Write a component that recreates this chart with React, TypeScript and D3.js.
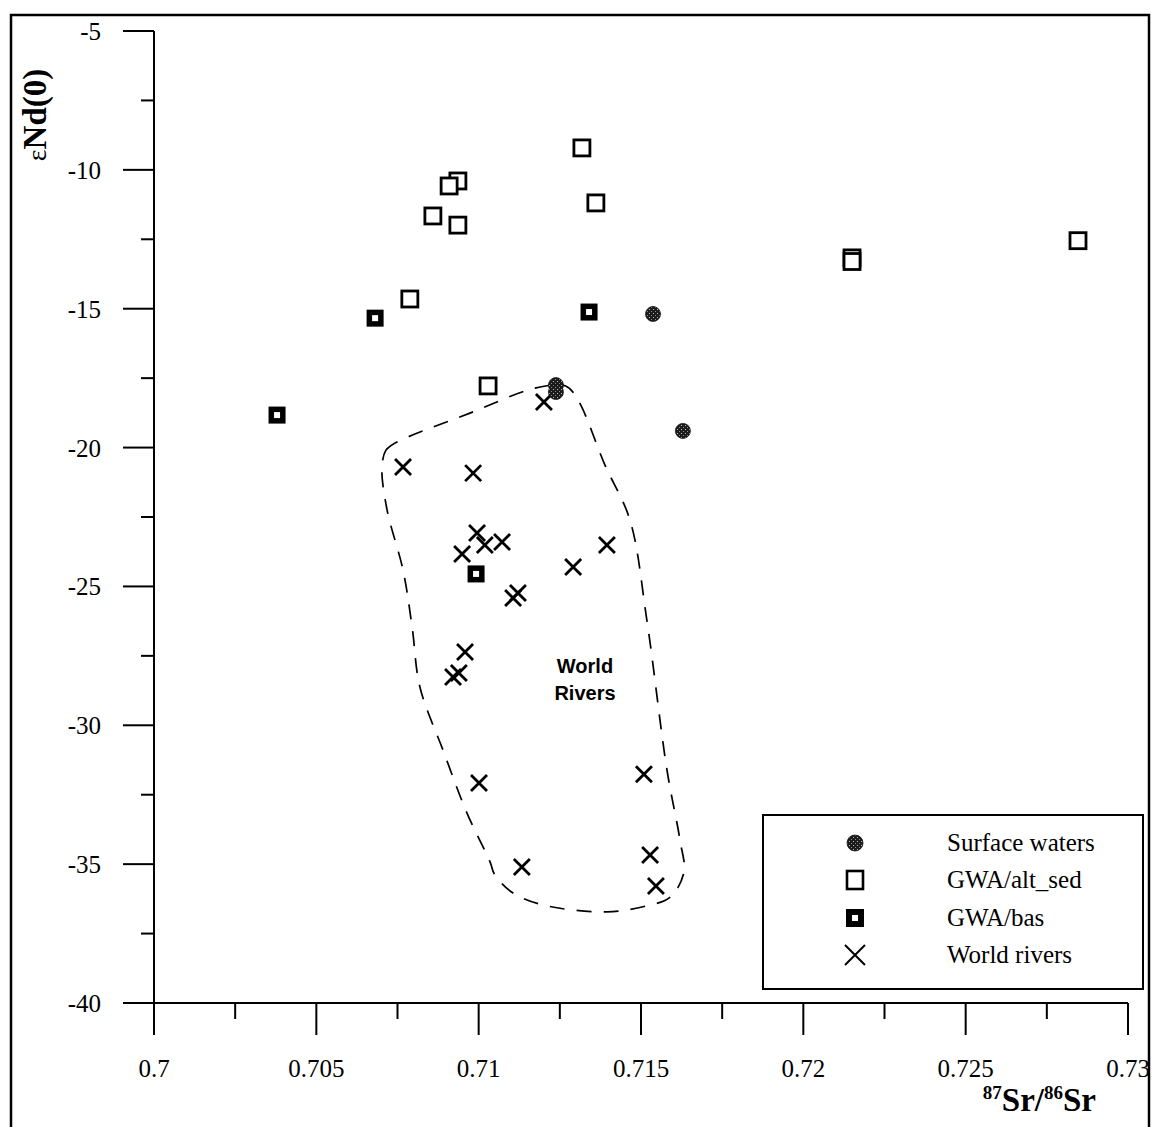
import React from 'react';
import * as d3 from 'd3';

// 87Sr/86Sr vs eps Nd(0)
const surfaceWaters: [number, number][] = [
  [0.71238, -17.75],
  [0.71238, -18.0],
  [0.71537, -15.19],
  [0.71629, -19.4],
];

const gwaAltSed: [number, number][] = [
  [0.71318, -9.21],
  [0.70936, -10.4],
  [0.70909, -10.58],
  [0.70859, -11.66],
  [0.70936, -11.99],
  [0.71361, -11.19],
  [0.70788, -14.65],
  [0.71029, -17.78],
  [0.72846, -12.55],
  [0.7215, -13.17],
  [0.7215, -13.3],
];

const gwaBas: [number, number][] = [
  [0.70681, -15.34],
  [0.70379, -18.83],
  [0.7134, -15.12],
  [0.70992, -24.55],
];

const worldRivers: [number, number][] = [
  [0.71201, -18.36],
  [0.70767, -20.7],
  [0.70983, -20.92],
  [0.70995, -23.08],
  [0.70949, -23.83],
  [0.71019, -23.51],
  [0.71072, -23.4],
  [0.71291, -24.3],
  [0.71395, -23.51],
  [0.71106, -25.42],
  [0.71121, -25.24],
  [0.70958, -27.36],
  [0.70939, -28.12],
  [0.70921, -28.26],
  [0.71001, -32.08],
  [0.71509, -31.76],
  [0.71133, -35.1],
  [0.71528, -34.67],
  [0.71546, -35.79],
];

// dashed envelope around the world rivers field
const riverEnvelope: [number, number][] = [
  [0.70702, -20.74],
  [0.70714, -20.1],
  [0.70742, -19.84],
  [0.70973, -18.76],
  [0.71174, -17.86],
  [0.71268, -17.78],
  [0.71306, -18.29],
  [0.71389, -20.63],
  [0.71466, -22.61],
  [0.71518, -26.21],
  [0.7158, -31.61],
  [0.7162, -34.13],
  [0.71632, -35.3],
  [0.71589, -36.2],
  [0.71518, -36.5],
  [0.71395, -36.72],
  [0.71198, -36.47],
  [0.71106, -36.04],
  [0.7105, -35.39],
  [0.71035, -34.92],
  [0.70964, -33.16],
  [0.7089, -30.89],
  [0.70819, -28.62],
  [0.70795, -26.46],
  [0.70767, -24.41],
  [0.70718, -22.25],
];

const xTicks = [0.7, 0.705, 0.71, 0.715, 0.72, 0.725, 0.73];
const xTickLabels = ['0.7', '0.705', '0.71', '0.715', '0.72', '0.725', '0.73'];
const yTicks = [-5, -10, -15, -20, -25, -30, -35, -40];
const yTickLabels = ['-5', '-10', '-15', '-20', '-25', '-30', '-35', '-40'];
const legendLabels = ['Surface waters', 'GWA/alt_sed', 'GWA/bas', 'World rivers'];

const W = 1155;
const H = 1127;
const serif = '"Liberation Serif", "Times New Roman", serif';
const sans = '"Liberation Sans", Arial, sans-serif';

const x = d3.scaleLinear().domain([0.7, 0.73]).range([154, 1128]);
const y = d3.scaleLinear().domain([-40, -5]).range([1003, 31]);

const xMinor = d3.range(0.7025, 0.73, 0.005);
const yMinor = d3.range(-7.5, -40, -5);

const OpenSquare = ({ cx, cy, s = 16 }: { cx: number; cy: number; s?: number }) => (
  <rect x={cx - s / 2} y={cy - s / 2} width={s} height={s} fill="white" stroke="#000" strokeWidth={2.8} />
);

const BasSquare = ({ cx, cy, s = 17 }: { cx: number; cy: number; s?: number }) => (
  <g>
    <rect x={cx - s / 2} y={cy - s / 2} width={s} height={s} fill="#000" />
    <rect x={cx - 3} y={cy - 3} width={6} height={6} fill="white" />
  </g>
);

const Cross = ({ cx, cy, r = 8, w = 2.8 }: { cx: number; cy: number; r?: number; w?: number }) => (
  <path
    d={`M${cx - r},${cy - r}L${cx + r},${cy + r}M${cx - r},${cy + r}L${cx + r},${cy - r}`}
    stroke="#000"
    strokeWidth={w}
    fill="none"
  />
);

const Dot = ({ cx, cy, r = 7.5 }: { cx: number; cy: number; r?: number }) => (
  <circle cx={cx} cy={cy} r={r} fill="url(#stipple)" stroke="#111" strokeWidth={0.8} />
);

export default function App() {
  const envelopePath = d3
    .line<[number, number]>()
    .x(d => x(d[0]))
    .y(d => y(d[1]))
    .curve(d3.curveCatmullRomClosed.alpha(0.5))(riverEnvelope) as string;

  const legendX = 855;
  const legendRows = [843, 880, 918, 955];

  return (
    <svg
      width={W}
      height={H}
      style={{ position: 'absolute', left: 0, top: 0, background: 'white' }}
      fontFamily={serif}
    >
      <defs>
        <pattern id="stipple" width="4" height="4" patternUnits="userSpaceOnUse">
          <rect width="4" height="4" fill="#1c1c1c" />
          <rect x="1" y="1" width="1" height="1" fill="#bbb" />
          <rect x="3" y="3" width="1" height="1" fill="#888" />
        </pattern>
      </defs>

      {/* outer frame */}
      <rect x={11} y={15} width={1138} height={1140} fill="none" stroke="#000" strokeWidth={2.5} />

      {/* dashed envelope */}
      <path d={envelopePath} fill="none" stroke="#000" strokeWidth={1.7} strokeDasharray="15 12" />

      {/* axes */}
      <line x1={x(0.7)} x2={x(0.7)} y1={y(-5)} y2={y(-40)} stroke="#000" strokeWidth={2} />
      <line x1={x(0.7)} x2={x(0.73)} y1={y(-40)} y2={y(-40)} stroke="#000" strokeWidth={2} />

      {yTicks.map((t, i) => (
        <g key={`yt${t}`}>
          <line x1={x(0.7) - 31} x2={x(0.7)} y1={y(t)} y2={y(t)} stroke="#000" strokeWidth={2} />
          <text x={101} y={y(t) + 9} textAnchor="end" fontSize={25}>
            {yTickLabels[i]}
          </text>
        </g>
      ))}
      {yMinor.map(t => (
        <line key={`ym${t}`} x1={x(0.7) - 13} x2={x(0.7)} y1={y(t)} y2={y(t)} stroke="#000" strokeWidth={2} />
      ))}

      {xTicks.map((t, i) => (
        <g key={`xt${t}`}>
          <line x1={x(t)} x2={x(t)} y1={y(-40)} y2={y(-40) + 32} stroke="#000" strokeWidth={2} />
          <text x={x(t)} y={1077} textAnchor="middle" fontSize={25}>
            {xTickLabels[i]}
          </text>
        </g>
      ))}
      {xMinor.map(t => (
        <line key={`xm${t}`} x1={x(t)} x2={x(t)} y1={y(-40)} y2={y(-40) + 16} stroke="#000" strokeWidth={2} />
      ))}

      {/* axis titles */}
      <text x={1096} y={1111} textAnchor="end" fontWeight="bold" fontSize={33}>
        <tspan fontSize={19} dy={-12}>87</tspan>
        <tspan dy={12}>Sr/</tspan>
        <tspan fontSize={19} dy={-12}>86</tspan>
        <tspan dy={12}>Sr</tspan>
      </text>
      <text transform="translate(46,115) rotate(-90)" textAnchor="middle" fontWeight="bold" fontSize={33}>
        <tspan fontSize={28} fontWeight="normal">ε</tspan>
        <tspan>Nd(0)</tspan>
      </text>

      {/* World Rivers label */}
      <text x={585} y={673} textAnchor="middle" fontFamily={sans} fontWeight="bold" fontSize={20}>
        World
      </text>
      <text x={585} y={700} textAnchor="middle" fontFamily={sans} fontWeight="bold" fontSize={20}>
        Rivers
      </text>

      {/* data */}
      {gwaAltSed.map((d, i) => (
        <OpenSquare key={`a${i}`} cx={x(d[0])} cy={y(d[1])} />
      ))}
      {gwaBas.map((d, i) => (
        <BasSquare key={`b${i}`} cx={x(d[0])} cy={y(d[1])} />
      ))}
      {worldRivers.map((d, i) => (
        <Cross key={`r${i}`} cx={x(d[0])} cy={y(d[1])} />
      ))}
      {surfaceWaters.map((d, i) => (
        <Dot key={`s${i}`} cx={x(d[0])} cy={y(d[1])} />
      ))}

      {/* legend */}
      <rect x={763} y={815} width={380} height={174} fill="white" stroke="#000" strokeWidth={2} />
      <Dot cx={legendX} cy={legendRows[0]} r={8} />
      <rect x={legendX - 8} y={legendRows[1] - 9} width={16} height={18} fill="white" stroke="#000" strokeWidth={2.6} />
      <BasSquare cx={legendX} cy={legendRows[2]} s={18} />
      <Cross cx={legendX} cy={legendRows[3]} r={10} w={2} />
      {legendLabels.map((l, i) => (
        <text key={l} x={947} y={legendRows[i] + 8} fontSize={25}>
          {l}
        </text>
      ))}
    </svg>
  );
}
